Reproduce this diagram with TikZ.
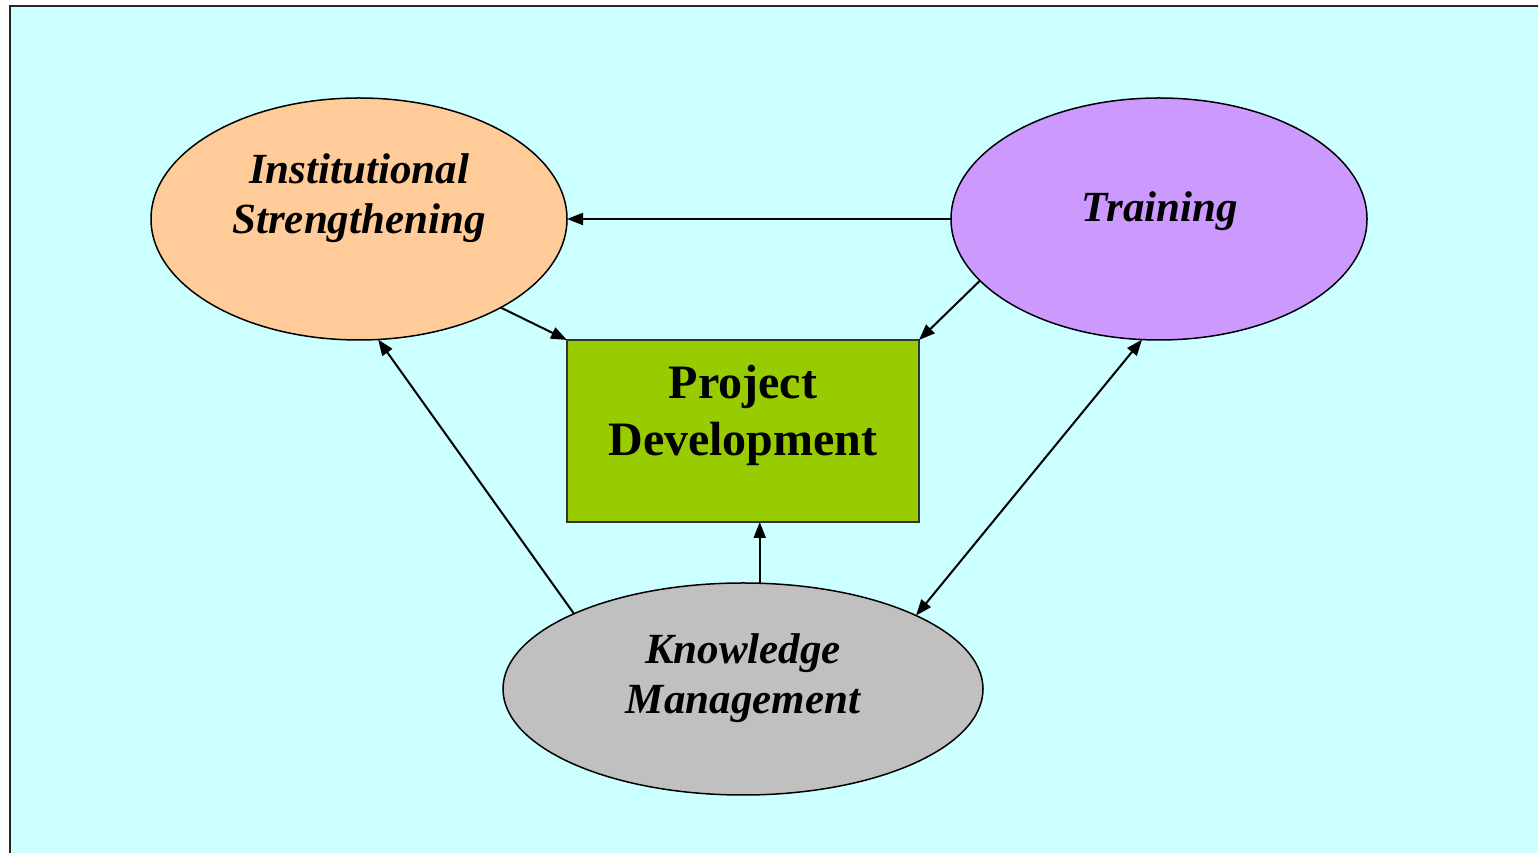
\documentclass[tikz,border=0pt]{standalone}
\usepackage{fontspec}
\setmainfont{Liberation Serif}
\usetikzlibrary{arrows.meta,shapes.geometric}
\definecolor{bgcyan}{HTML}{CCFFFF}
\definecolor{isfill}{HTML}{FFCC99}
\definecolor{trfill}{HTML}{CC99FF}
\definecolor{pdfill}{HTML}{99CC00}
\definecolor{kmfill}{HTML}{C0C0C0}
\tikzset{
  blob/.style={ellipse,draw=black,line width=1.5pt,inner sep=0pt,outer sep=0pt},
  pdbox/.style={rectangle,draw=black!80,line width=1.5pt,inner sep=0pt,outer sep=0pt,fill=pdfill,minimum width=352pt,minimum height=182pt},
  itlabel/.style={align=center,font=\fontsize{43}{50}\selectfont\bfseries\itshape,inner sep=0pt},
  uplabel/.style={align=center,font=\fontsize{48}{57}\selectfont\bfseries,inner sep=0pt},
  conn/.style={line width=2pt,-{Triangle[length=16pt,width=12pt]}},
  conn2/.style={line width=2pt,{Triangle[length=16pt,width=12pt]}-{Triangle[length=16pt,width=12pt]}}
}
\begin{document}
\begin{tikzpicture}[x=1pt,y=1pt]
\useasboundingbox (0,0) rectangle (1538,853);
\clip (0,0) rectangle (1538,853);
\draw[fill=bgcyan,draw=black!85,line width=2.5pt] (10,847) rectangle (1580,-30);
\node[blob,fill=isfill,minimum width=416pt,minimum height=242pt] (is) at (359,634) {};
\node[blob,fill=trfill,minimum width=416pt,minimum height=242pt] (tr) at (1159,634) {};
\node[pdbox] (pd) at (743,422) {};
\node[blob,fill=kmfill,minimum width=480pt,minimum height=212pt] (km) at (743,164) {};
\node[itlabel] (istext) at (359,655) {Institutional\\Strengthening};
\node[itlabel] (trtext) at (1160,642) {Training};
\node[uplabel] (pdtext) at (743,438) {Project\\Development};
\node[itlabel] (kmtext) at (743,175) {Knowledge\\Management};
\draw[conn] (tr.west) -- (is.east);
\draw[conn] (is.-32) -- (pd.north west);
\draw[conn] (tr.199) -- (pd.north east);
\draw[conn] (km.81) -- (km.81 |- pd.south);
\draw[conn] (km.156.6) -- (is.-81.6);
\draw[conn2] (km.23.9) -- (tr.262.6);
\end{tikzpicture}
\end{document}
